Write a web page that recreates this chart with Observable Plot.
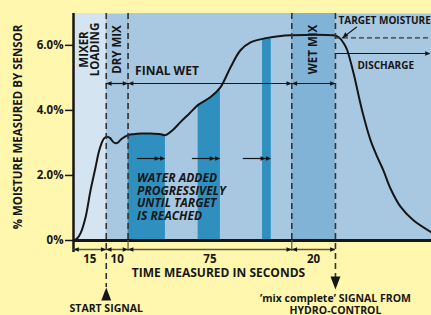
<!DOCTYPE html>
<html><head><meta charset="utf-8">
<script src="https://cdn.jsdelivr.net/npm/d3@7"></script>
<script src="https://cdn.jsdelivr.net/npm/@observablehq/plot@0.6"></script>
<style>
html,body{margin:0;padding:0;background:#fff7ad;}
#chart{width:431px;height:315px;overflow:hidden;}
</style></head>
<body><div id="chart"></div>
<script>
// ---- data ----
const phaseNames = ["MIXER LOADING", "DRY MIX", "FINAL WET", "WET MIX"];
const phaseLabels = ["MIXER\nLOADING", "DRY MIX", "FINAL WET", "WET MIX"];
const phaseStart = [0, 15, 25, 100];
const phaseEnd = [15, 25, 100, 120];
const durationLabels = ["15", "10", "75", "20"];
const dischargeStart = 120;
const timeMax = 164;
const moistureMax = 6.98;
const targetMoisture = 6.23;
const startSignalTime = 15;
const mixCompleteTime = 120;

const curveTime = [0, 1.5, 3.2, 5.5, 7.8, 10.1, 11.5, 12.8, 14.0, 15.4, 16.9, 18.0, 19.2, 20.5, 22.0, 25,
  27.5, 31, 35.3, 40, 42.1, 45.5, 49.0, 53, 57.1, 62.8, 67.3, 71.9, 76.5, 81.1, 86.6, 90.6, 95, 100,
  110, 119, 121, 122.3, 124, 125.4, 128.3, 132.2, 136.1, 139.3, 142.0, 145.2, 149.8, 155.7, 164];
const curveMoisture = [0, 0.05, 0.22, 0.71, 1.54, 2.25, 2.7, 2.98, 3.14, 3.19, 3.14, 3.04, 2.99, 3.02, 3.12, 3.24,
  3.27, 3.29, 3.29, 3.27, 3.24, 3.4, 3.64, 3.9, 4.17, 4.41, 4.71, 5.32, 5.85, 6.09, 6.2, 6.25, 6.29, 6.31,
  6.33, 6.31, 6.27, 6.2, 6.04, 5.85, 5.14, 4.0, 3.08, 2.55, 2.15, 1.6, 1.04, 0.62, 0.25];

const waterStart = [25, 57.1, 86.6];
const waterEnd = [42.1, 67.3, 90.6];

const yTicks = [0, 2, 4, 6];
const yTickLabels = ["0%", "2.0%", "4.0%", "6.0%"];

const yTitle = "% MOISTURE MEASURED BY SENSOR";
const xTitle = "TIME MEASURED IN SECONDS";
const waterText = "WATER ADDED\nPROGRESSIVELY\nUNTIL TARGET\nIS REACHED";
const startText = "START SIGNAL";
const completeText = "\u2019mix complete\u2019 SIGNAL FROM\nHYDRO-CONTROL";
const targetText = "TARGET MOISTURE";
const dischargeText = "DISCHARGE";
const targetPointerTime = [129.6, 123.2];
const targetPointerMoisture = [6.56, 6.23];

// ---- styling ----
const W = 431, H = 315, ML = 73, MR = 0, MT = 13, MB = 75;
const plotH = H - MT - MB;
const baseFill = "#a8c8e2", mixerFill = "#d4e4f0", wetMixFill = "#80b3d6", waterFill = "#2f90c0";
const ink = "#161616", dimInk = "#55554a", dashInk = "#333";

function headSymbol(aspect) {
  return {draw(ctx, size) {
    const s = Math.sqrt(size), w = s / 2, h = s * aspect;
    ctx.moveTo(0, 0); ctx.lineTo(-w, h); ctx.lineTo(w, h); ctx.closePath();
  }};
}
const smallHead = headSymbol(1.15), bigHead = headSymbol(1.3);

const phases = phaseNames.map((name, i) => ({name, label: phaseLabels[i], start: phaseStart[i], end: phaseEnd[i],
  dur: durationLabels[i], mid: (phaseStart[i] + phaseEnd[i]) / 2}));
const curve = curveTime.map((t, i) => ({t, v: curveMoisture[i]}));
const water = waterStart.map((s, i) => ({start: s, end: waterEnd[i]}));
const finalWet = phases[2];
const upperDims = phases.slice(1);
const signals = [startSignalTime, mixCompleteTime];
const otherBounds = phaseEnd.filter(d => !signals.includes(d));
const pointer = targetPointerTime.map((t, i) => ({t, v: targetPointerMoisture[i]}));

const dashed = {stroke: dashInk, strokeDasharray: "6,4", strokeWidth: 1.6};
const txt = {fill: ink, fontWeight: "bold", lineAnchor: "middle"};

const chart = Plot.plot({
  width: W, height: H, marginLeft: ML, marginRight: MR, marginTop: MT, marginBottom: MB,
  style: {background: "#fff7ad", fontFamily: "'Open Sans', sans-serif", fontWeight: "bold", color: ink},
  x: {domain: [0, timeMax], axis: null},
  y: {domain: [0, moistureMax], axis: null},
  marks: [
    Plot.frame({fill: baseFill, stroke: "none"}),
    Plot.rect([phases[0]], {x1: "start", x2: "end", fill: mixerFill}),
    Plot.rect([phases[3]], {x1: "start", x2: "end", fill: wetMixFill}),
    Plot.rect(water, {x1: "start", x2: "end", fill: waterFill}),
    Plot.areaY(curve.filter(d => d.t >= finalWet.start && d.t <= finalWet.end),
      {x: "t", y1: "v", y2: moistureMax, fill: baseFill, curve: "catmull-rom"}),
    Plot.line(curve, {x: "t", y: "v", stroke: ink, strokeWidth: 2, curve: "catmull-rom"}),

    // dashed phase boundaries
    Plot.ruleX(otherBounds, dashed),
    Plot.ruleX([startSignalTime], {...dashed, insetBottom: -47}),
    Plot.ruleX([mixCompleteTime], {...dashed, insetBottom: -38}),

    // signal arrowheads
    Plot.dot([startSignalTime], {x: d => d, frameAnchor: "bottom", dy: 47, symbol: bigHead, r: 5.6, fill: ink, stroke: "none"}),
    Plot.dot([mixCompleteTime], {x: d => d, frameAnchor: "bottom", dy: 49, symbol: bigHead, r: 5.6, rotate: 180, fill: ink, stroke: "none"}),

    // upper dimension arrows
    Plot.ruleY(upperDims, {x1: "start", x2: "end", y: moistureMax, dy: 70, stroke: ink, strokeWidth: 1.2}),
    Plot.dot(upperDims, {x: "start", frameAnchor: "top", dy: 70, symbol: smallHead, r: 2.6, rotate: -90, fill: ink, stroke: "none"}),
    Plot.dot(upperDims, {x: "end", frameAnchor: "top", dy: 70, symbol: smallHead, r: 2.6, rotate: 90, fill: ink, stroke: "none"}),
    Plot.text(phases.filter(p => p !== finalWet), {x: "mid", text: "label", frameAnchor: "top", dy: 36, rotate: -90,
      textAnchor: "middle", lineHeight: 0.95, fontSize: 11.5, ...txt}),
    Plot.text([finalWet], {x: "start", text: "name", frameAnchor: "top", dx: 7, dy: 58, textAnchor: "start", fontSize: 12, ...txt}),

    // water added arrows and text
    Plot.ruleY(water, {x1: "end", x2: "end", y: moistureMax, dy: 145, insetLeft: -28, insetRight: 3, stroke: ink, strokeWidth: 1.2}),
    Plot.dot(water, {x: "end", frameAnchor: "top", dy: 145, dx: -5.5, symbol: smallHead, r: 2.6, rotate: 90, fill: ink, stroke: "none"}),
    Plot.dot(water, {x: "end", frameAnchor: "top", dy: 145, symbol: smallHead, r: 2.6, rotate: 90, fill: ink, stroke: "none"}),
    Plot.text([waterText], {x: () => waterStart[0], text: d => d, frameAnchor: "bottom", dx: 9, dy: -43.5, textAnchor: "start",
      lineHeight: 1.06, fontSize: 12, fontStyle: "italic", ...txt}),

    // target moisture and discharge
    Plot.ruleY([targetMoisture], {x1: dischargeStart, x2: timeMax, stroke: dashInk, strokeDasharray: "5,3", strokeWidth: 1.4}),
    Plot.line(pointer, {x: "t", y: "v", stroke: ink, strokeWidth: 1.2}),
    Plot.dot([pointer[1]], {x: "t", y: "v", symbol: smallHead, r: 2.8, rotate: -130, fill: ink, stroke: "none"}),
    Plot.text([targetText], {x: () => dischargeStart, text: d => d, frameAnchor: "top", dx: 3, dy: 7, textAnchor: "start", fontSize: 10, ...txt}),
    Plot.ruleY([dischargeStart], {x1: d => d, x2: timeMax, y: moistureMax, dy: 40, insetRight: 3, stroke: ink, strokeWidth: 1.2}),
    Plot.dot([timeMax], {x: d => d, frameAnchor: "top", dy: 40, dx: -1, symbol: smallHead, r: 2.6, rotate: 90, fill: ink, stroke: "none"}),
    Plot.text([dischargeText], {x: () => dischargeStart, text: d => d, frameAnchor: "top", dx: 22, dy: 52, textAnchor: "start", fontSize: 10, ...txt}),

    // axes lines
    Plot.ruleY([0], {stroke: ink, strokeWidth: 3}),
    Plot.ruleX([0], {stroke: ink, strokeWidth: 2.5, insetBottom: -12}),
    Plot.ruleX(otherBounds.filter(d => d !== phaseEnd[0]), {insetTop: plotH, insetBottom: -11, stroke: dimInk, strokeWidth: 1.2}),

    // bottom dimension line
    Plot.ruleY(phases, {x1: "start", x2: "end", y: 0, dy: 9, stroke: dimInk, strokeWidth: 1.5}),
    Plot.dot(phases, {x: "start", frameAnchor: "bottom", dy: 9, symbol: smallHead, r: 2.6, rotate: -90, fill: ink, stroke: "none"}),
    Plot.dot(phases, {x: "end", frameAnchor: "bottom", dy: 9, symbol: smallHead, r: 2.6, rotate: 90, fill: ink, stroke: "none"}),
    Plot.text(phases, {x: "mid", text: "dur", frameAnchor: "bottom", dy: 19, fontSize: 11.5, textAnchor: "middle", ...txt}),
    Plot.text([xTitle], {text: d => d, frameAnchor: "bottom", dx: -34, dy: 33, fontSize: 12, textAnchor: "middle", ...txt}),
    Plot.text([startText], {x: () => startSignalTime, text: d => d, frameAnchor: "bottom", dy: 68.5, fontSize: 10.5, textAnchor: "middle", ...txt}),
    Plot.text([completeText], {x: () => mixCompleteTime, text: d => d, frameAnchor: "bottom", dy: 63.5, lineHeight: 1.12, fontSize: 10.5, textAnchor: "middle", ...txt}),

    // y axis
    Plot.axisY({ticks: yTicks, tickFormat: d => yTickLabels[yTicks.indexOf(d)], tickSize: 8, tickPadding: 2,
      fontSize: 11.5, stroke: ink, strokeWidth: 1.5, label: null}),
    Plot.text([yTitle], {text: d => d, frameAnchor: "left", dx: -55, rotate: -90, textAnchor: "middle", fontSize: 11.5, ...txt})
  ]
});
document.getElementById("chart").appendChild(chart);
</script>
</body></html>
